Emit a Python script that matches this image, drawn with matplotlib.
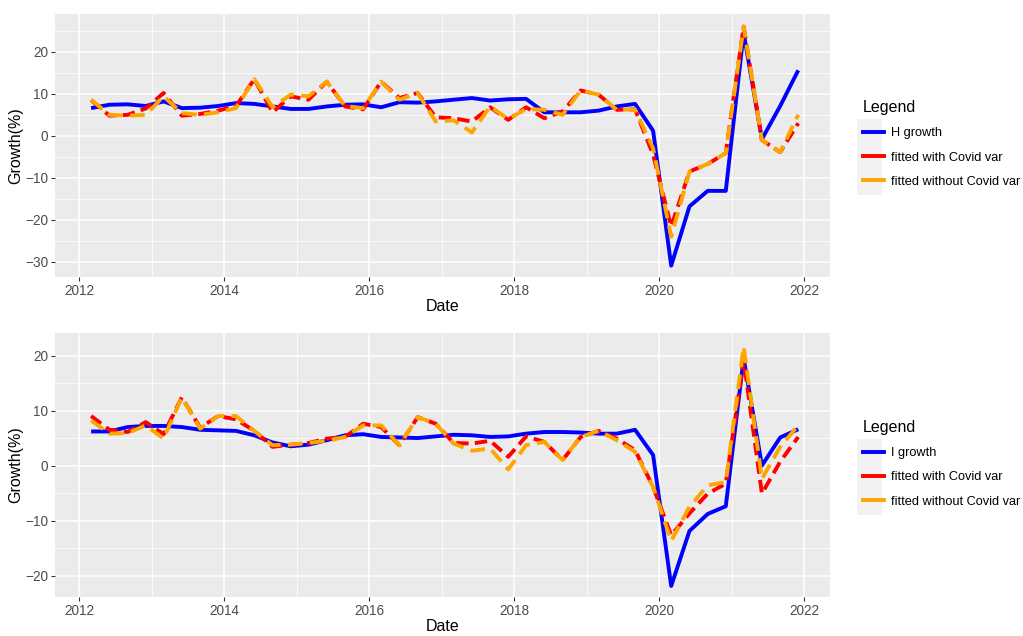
import matplotlib
matplotlib.use("Agg")
import matplotlib.pyplot as plt
import matplotlib.dates as mdates
from matplotlib.lines import Line2D
from matplotlib.patches import Rectangle
import pandas as pd

plt.rcParams['font.family'] = ['Liberation Sans', 'DejaVu Sans']

dates = pd.date_range('2012-03-01', '2021-12-01', freq='3MS')

h_growth = [6.6, 7.4, 7.5, 7.1, 8.2, 6.6, 6.7, 7.1, 7.8, 7.6,
            7.0, 6.4, 6.4, 7.0, 7.4, 7.5, 6.8, 8.0, 7.9, 8.2,
            8.6, 9.0, 8.4, 8.7, 8.8, 5.6, 5.6, 5.6, 6.0, 7.0,
            7.6, 1.2, -30.9, -16.8, -13.1, -13.1, 24.5, -0.8, 7.1, 15.6]
h_fit_covid = [8.5, 4.8, 5.0, 6.5, 10.2, 4.8, 5.2, 6.0, 7.1, 13.5,
               5.6, 9.4, 8.6, 12.9, 7.0, 6.3, 12.9, 9.0, 10.2, 4.4,
               4.2, 3.4, 6.8, 3.8, 6.8, 4.2, 5.8, 10.8, 9.8, 6.2,
               6.3, -4.5, -21.6, -8.5, -6.7, -4.1, 26.0, -1.0, -3.9, 3.0]
h_fit_nocovid = [8.6, 5.0, 4.8, 5.0, 9.4, 5.4, 5.0, 5.6, 6.6, 13.5,
                 6.8, 9.8, 9.4, 12.9, 7.1, 6.6, 12.9, 8.6, 10.2, 3.4,
                 3.7, 0.8, 7.0, 4.0, 6.4, 6.2, 5.0, 10.8, 9.8, 6.2,
                 6.3, -3.0, -24.0, -8.5, -6.7, -4.1, 26.0, -1.0, -3.9, 5.0]

i_growth = [6.2, 6.2, 7.0, 7.2, 7.2, 7.0, 6.5, 6.4, 6.3, 5.5,
            4.2, 3.5, 3.8, 4.6, 5.5, 5.7, 5.2, 5.1, 5.0, 5.3,
            5.6, 5.5, 5.2, 5.3, 5.8, 6.1, 6.1, 6.0, 5.8, 5.8,
            6.5, 1.9, -21.9, -11.9, -8.8, -7.4, 19.5, 0.0, 5.1, 6.6]
i_fit_covid = [9.0, 6.5, 6.1, 7.9, 5.7, 12.4, 6.9, 9.0, 8.4, 6.3,
               3.4, 3.8, 4.1, 4.9, 5.2, 7.6, 7.0, 3.7, 8.8, 7.6,
               4.1, 4.0, 4.5, 1.6, 5.3, 4.3, 1.0, 5.2, 6.3, 4.9,
               2.8, -3.9, -12.7, -8.7, -5.1, -3.3, 19.2, -5.1, 0.7, 5.2]
i_fit_nocovid = [8.2, 5.8, 5.9, 7.3, 4.9, 12.4, 6.7, 9.0, 9.0, 6.3,
                 3.7, 3.8, 4.1, 4.5, 5.2, 7.3, 7.3, 3.7, 8.8, 7.6,
                 4.0, 2.7, 3.1, -0.7, 3.7, 4.3, 1.0, 5.2, 6.3, 4.6,
                 2.5, -3.9, -13.7, -7.5, -3.6, -3.0, 21.6, -2.4, 3.4, 7.3]

W, H = 1023, 636
fig = plt.figure(figsize=(W / 100, H / 100), dpi=100)

def px_axes(x0, y0, x1, y1):
    return fig.add_axes([x0 / W, 1 - y1 / H, (x1 - x0) / W, (y1 - y0) / H])

ax1 = px_axes(55, 14, 830, 277)
ax2 = px_axes(55, 333, 830, 597)

xlim = (pd.Timestamp('2011-09-01'), pd.Timestamp('2022-05-10'))

def style(ax, ylim, major, minor):
    ax.set_facecolor('#EBEBEB')
    for s in ax.spines.values():
        s.set_visible(False)
    ax.xaxis.set_major_locator(mdates.YearLocator(2))
    ax.xaxis.set_major_formatter(mdates.DateFormatter('%Y'))
    minor_dates = [pd.Timestamp(f'{y}-01-01') for y in range(2011, 2024, 2)]
    ax.set_xticks(minor_dates, minor=True)
    ax.set_yticks(major)
    ax.set_yticks(minor, minor=True)
    ax.set_xlim(*xlim)
    ax.set_ylim(*ylim)
    ax.grid(which='major', color='white', linewidth=1.1)
    ax.grid(which='minor', color='white', linewidth=0.55)
    ax.set_axisbelow(True)
    ax.tick_params(which='major', length=3, width=0.8, color='#333333',
                   labelsize=9.8, labelcolor='#4D4D4D', pad=2)
    ax.tick_params(which='minor', length=0)
    ax.set_xlabel('Date', fontsize=11.5, labelpad=1)
    ax.set_ylabel('Growth(%)', fontsize=11.5, labelpad=1)

def draw(ax, y, fc, fn, lbl):
    ax.plot(dates, y, color='#0000FF', linewidth=2.8, solid_capstyle='butt', label=lbl)
    ax.plot(dates, fc, color='#FF0000', linewidth=2.8, dashes=(3.2, 1.6), label='fitted with Covid var')
    ax.plot(dates, fn, color='#FFA500', linewidth=2.8, dashes=(3.8, 1.9), label='fitted without Covid var')

draw(ax1, h_growth, h_fit_covid, h_fit_nocovid, 'H growth')
style(ax1, (-33.6, 29.0), [-30, -20, -10, 0, 10, 20], [-25, -15, -5, 5, 15, 25])

draw(ax2, i_growth, i_fit_covid, i_fit_nocovid, 'I growth')
style(ax2, (-23.9, 24.1), [-20, -10, 0, 10, 20], [-15, -5, 5, 15])

def legend(ax, top):
    # grey key background
    fig.patches.append(Rectangle((857 / W, 1 - (top + 89) / H), 25 / W, 76 / H,
                                 transform=fig.transFigure, facecolor='#F2F2F2',
                                 edgecolor='none', zorder=0))
    handles = [Line2D([], [], color=c, linewidth=2.8) for c in ('#0000FF', '#FF0000', '#FFA500')]
    labels = [l.get_label() for l in ax.get_lines()]
    leg = fig.legend(handles, labels, loc='upper left',
                     bbox_to_anchor=(853 / W, 1 - (top - 16) / H),
                     frameon=False, title='Legend', fontsize=9.2,
                     title_fontsize=11.5, handlelength=1.6, handletextpad=0.6,
                     labelspacing=0.95, borderpad=0.3, alignment='left')
    return leg

legend(ax1, 106)
legend(ax2, 426)

fig.savefig('out.png', dpi=100)
